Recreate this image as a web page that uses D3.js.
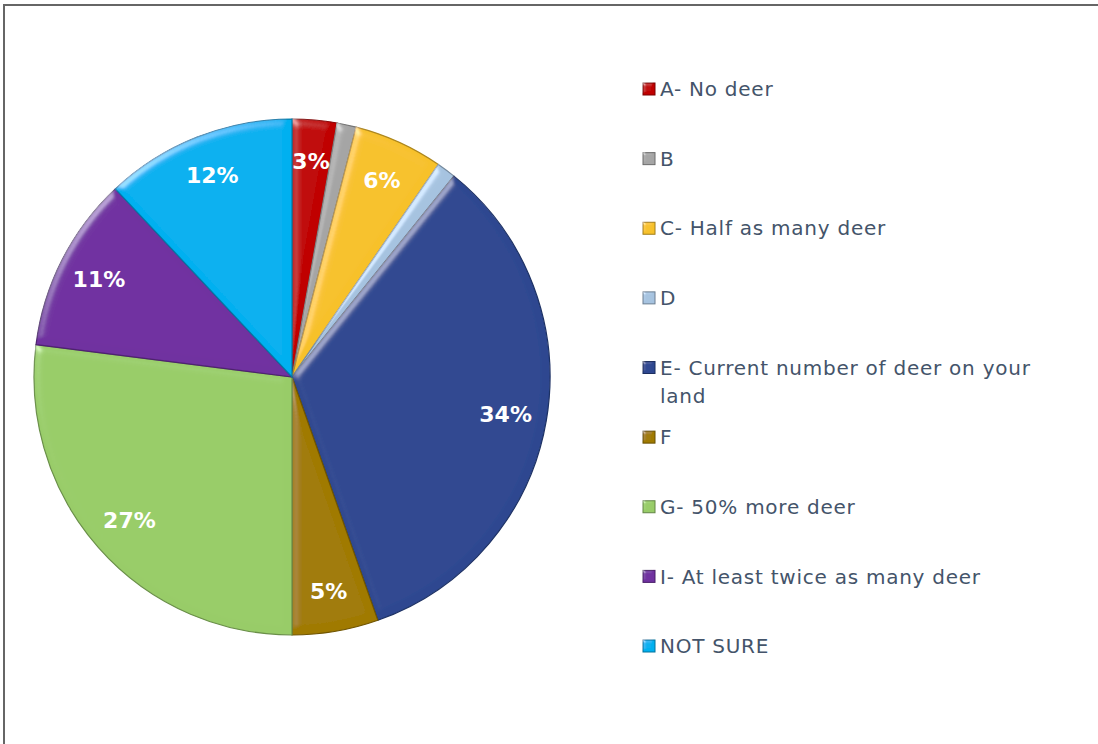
<!DOCTYPE html>
<html>
<head>
<meta charset="utf-8">
<script src="https://cdn.jsdelivr.net/npm/d3@7"></script>
<style>
  body { margin: 0; background: #fff; }
  svg { display: block; }
</style>
</head>
<body>
<svg id="chart" width="1098" height="744"></svg>
<script>
// chart values (percent of answers)
let categories = ["A- No deer", "B", "C- Half as many deer", "D",
  "E- Current number of deer on your land", "F", "G- 50% more deer",
  "I- At least twice as many deer", "NOT SURE"];
let values = [2.8, 1.2, 5.6, 1.2, 33.8, 5.4, 27, 11, 12];
let labels = ["3%", "", "6%", "", "34%", "5%", "27%", "11%", "12%"];
let colors = ["#c00000", "#a5a5a5", "#f7c12c", "#a6c3e0", "#2d4790",
  "#a07a00", "#98cc68", "#7030a0", "#00b0f0"];

let data = categories.map((c, i) => ({ name: c, value: values[i], label: labels[i], color: colors[i] }));

let svg = d3.select("#chart");

// frame (only top and left edges fall inside the window)
svg.append("rect")
  .attr("x", 4).attr("y", 5)
  .attr("width", 1200).attr("height", 900)
  .attr("fill", "none")
  .attr("stroke", "#666")
  .attr("stroke-width", 2);

let defs = svg.append("defs");

// bevel look: highlight on edges facing the light, flat middle left alone
function addBevel(id, blur, scale) {
  let f = defs.append("filter").attr("id", id)
    .attr("x", "-5%").attr("y", "-5%").attr("width", "110%").attr("height", "110%");
  f.append("feGaussianBlur").attr("in", "SourceAlpha").attr("stdDeviation", blur).attr("result", "blur");
  let spec = f.append("feSpecularLighting").attr("in", "blur").attr("surfaceScale", scale)
    .attr("specularConstant", 0.7).attr("specularExponent", 30)
    .attr("lighting-color", "#ffffff").attr("result", "spec");
  spec.append("feDistantLight").attr("azimuth", 225).attr("elevation", 30);
  f.append("feComposite").attr("in", "spec").attr("in2", "SourceAlpha").attr("operator", "in").attr("result", "specIn");
  f.append("feComposite").attr("in", "SourceGraphic").attr("in2", "specIn")
    .attr("operator", "arithmetic").attr("k1", 0).attr("k2", 1).attr("k3", 0.45).attr("k4", 0);
}
addBevel("bevel", 4, 4);
addBevel("bevelSmall", 1.5, 2);

let cx = 292, cy = 377, radius = 258;

let pie = d3.pie().value(d => d.value).sort(null);
let arc = d3.arc().innerRadius(0).outerRadius(radius);
let labelArc = d3.arc().innerRadius(radius * 0.84).outerRadius(radius * 0.84);

let g = svg.append("g").attr("transform", `translate(${cx},${cy})`);

let arcs = pie(data);

g.selectAll("path.slice")
  .data(arcs)
  .enter()
  .append("path")
  .attr("class", "slice")
  .attr("d", arc)
  .attr("fill", d => d.data.color)
  .attr("stroke", d => d3.color(d.data.color).darker(1))
  .attr("stroke-width", 1.2)
  .attr("filter", "url(#bevel)");

g.selectAll("text.pct")
  .data(arcs.filter(d => d.data.label))
  .enter()
  .append("text")
  .attr("class", "pct")
  .attr("transform", d => `translate(${labelArc.centroid(d)})`)
  .attr("text-anchor", "middle")
  .attr("dy", "0.36em")
  .attr("fill", "#fff")
  .style("font-family", "'DejaVu Sans', Verdana, sans-serif")
  .style("font-weight", "bold")
  .style("font-size", "22px")
  .text(d => d.data.label);

// legend
let legendY = d3.scalePoint().domain(categories).range([89, 646]);

let legend = svg.append("g").selectAll("g")
  .data(data)
  .enter()
  .append("g")
  .attr("transform", d => `translate(643,${legendY(d.name)})`);

legend.append("rect")
  .attr("x", 0).attr("y", -6)
  .attr("width", 12).attr("height", 12)
  .attr("fill", d => d.color)
  .attr("stroke", d => d3.color(d.color).darker(1.2))
  .attr("stroke-width", 1)
  .attr("filter", "url(#bevelSmall)");

legend.append("text")
  .attr("x", 17)
  .attr("dy", "0.36em")
  .attr("fill", "#44546a")
  .style("font-family", "'DejaVu Sans', Verdana, sans-serif")
  .style("font-size", "20px")
  .style("letter-spacing", "0.75px")
  .each(function(d) {
    let t = d3.select(this);
    if (d.name.length > 30) {
      t.append("tspan").attr("x", 17).text("E- Current number of deer on your");
      t.append("tspan").attr("x", 17).attr("dy", "28").text("land");
    } else {
      t.text(d.name);
    }
  });
</script>
</body>
</html>
